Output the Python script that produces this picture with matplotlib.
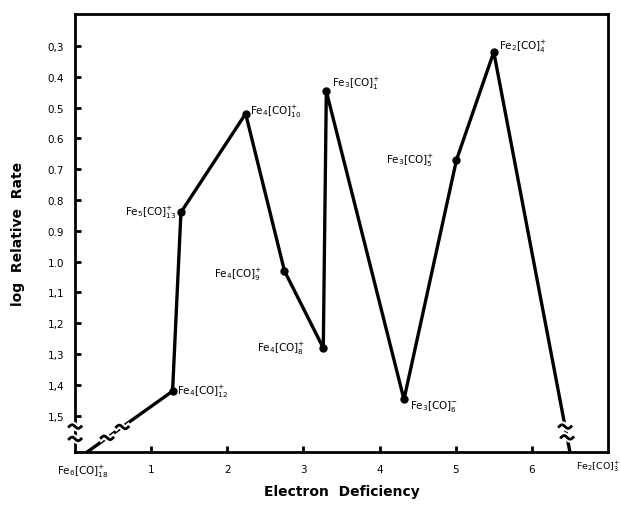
import numpy as np
import matplotlib
matplotlib.use("Agg")
import matplotlib.pyplot as plt
import matplotlib.transforms as mtransforms

plt.rcParams['font.family'] = ['DejaVu Sans']
plt.rcParams['mathtext.default'] = 'regular'

# electron deficiency vs log relative rate
species = ['Fe6(CO)18', 'Fe4(CO)12', 'Fe5(CO)13', 'Fe4(CO)10', 'Fe4(CO)9',
           'Fe4(CO)8', 'Fe3(CO)1', 'Fe3(CO)6', 'Fe3(CO)5', 'Fe2(CO)4', 'Fe2(CO)3']
deficiency = [0.16, 1.28, 1.39, 2.24, 2.75, 3.26, 3.30, 4.32, 5.01, 5.50, 6.50]
log_rate = [1.617, 1.42, 0.84, 0.52, 1.03, 1.28, 0.447, 1.447, 0.67, 0.32, 1.617]

labels = {
    'Fe4(CO)12': r'Fe$_4$[CO]$_{12}^{+}$',
    'Fe5(CO)13': r'Fe$_5$[CO]$_{13}^{+}$',
    'Fe4(CO)10': r'Fe$_4$[CO]$_{10}^{+}$',
    'Fe4(CO)9': r'Fe$_4$[CO]$_{9}^{+}$',
    'Fe4(CO)8': r'Fe$_4$[CO]$_{8}^{+}$',
    'Fe3(CO)1': r'Fe$_3$[CO]$_{1}^{+}$',
    'Fe3(CO)6': r'Fe$_3$[CO]$_{6}^{-}$',
    'Fe3(CO)5': r'Fe$_3$[CO]$_{5}^{+}$',
    'Fe2(CO)4': r'Fe$_2$[CO]$_{4}^{+}$',
}
# label anchor (x, y, ha)
label_pos = {
    'Fe4(CO)12': (1.34, 1.42, 'left'),
    'Fe5(CO)13': (1.33, 0.84, 'right'),
    'Fe4(CO)10': (2.30, 0.51, 'left'),
    'Fe4(CO)9': (2.46, 1.04, 'right'),
    'Fe4(CO)8': (3.03, 1.28, 'right'),
    'Fe3(CO)1': (3.38, 0.42, 'left'),
    'Fe3(CO)6': (4.40, 1.465, 'left'),
    'Fe3(CO)5': (4.72, 0.67, 'right'),
    'Fe2(CO)4': (5.57, 0.30, 'left'),
}

yticks = [0.3, 0.4, 0.5, 0.6, 0.7, 0.8, 0.9, 1.0, 1.1, 1.2, 1.3, 1.4, 1.5]
ytick_labels = ['0,3', '0.4', '0.5', '0.6', '0.7', '0.8', '0.9', '1.0',
                '1,1', '1,2', '1,3', '1,4', '1,5']
xticks = [1, 2, 3, 4, 5, 6]

fig = plt.figure(figsize=(6.21, 5.10), dpi=100)
ax = fig.add_axes([0.121, 0.112, 0.858, 0.859])

ax.plot(deficiency, log_rate, color='black', lw=2.4, clip_on=False,
        solid_joinstyle='round', zorder=3)
# dots (not on the two end points)
ax.plot(deficiency[1:-1], log_rate[1:-1], 'o', color='black', ms=5, zorder=4)

for key, txt in labels.items():
    x, y, ha = label_pos[key]
    ax.text(x, y, txt, ha=ha, va='center', fontsize=7.5)

ax.set_xlim(0, 7)
ax.set_ylim(1.617, 0.196)
ax.set_xticks(xticks)
ax.set_xticklabels([str(t) for t in xticks], fontsize=7.5)
ax.set_yticks(yticks)
ax.set_yticklabels(ytick_labels, fontsize=7.5)
ax.tick_params(direction='in', width=2, length=4)
ax.tick_params(axis='x', pad=9)
ax.tick_params(axis='y', pad=8)
for s in ax.spines.values():
    s.set_linewidth(2)

# end labels under the axis
ax.text(0.10, -0.025, r'Fe$_6$[CO]$_{18}^{+}$', transform=ax.get_xaxis_transform(),
        ha='center', va='top', fontsize=7.5)
ax.text(6.58, -0.015, r'Fe$_2$[CO]$_{3}^{+}$', transform=ax.get_xaxis_transform(),
        ha='left', va='top', fontsize=6.8)

ax.set_xlabel('Electron  Deficiency', fontsize=10, fontweight='bold', labelpad=7)
ax.set_ylabel('log  Relative  Rate', fontsize=10, fontweight='bold', labelpad=16)


# axis break squiggles
def squiggle(x, y, size=0.06):
    t = np.linspace(-1, 1, 30)
    sx = t * size
    sy = -np.sin(np.pi * t) * size * 0.3
    trans = fig.dpi_scale_trans + mtransforms.ScaledTranslation(x, y, ax.transData)
    ax.plot(sx, sy, color='white', lw=5, transform=trans, clip_on=False, zorder=5)
    ax.plot(sx, sy, color='black', lw=2, transform=trans, clip_on=False, zorder=6)


for yb in (1.535, 1.575):
    squiggle(0, yb)
for xb in (0.42, 0.62):
    squiggle(xb, np.interp(xb, deficiency[:2], log_rate[:2]))
for yb in (1.535, 1.57):
    squiggle(np.interp(yb, log_rate[-2:], deficiency[-2:]), yb)

fig.savefig('out.png', dpi=100)
